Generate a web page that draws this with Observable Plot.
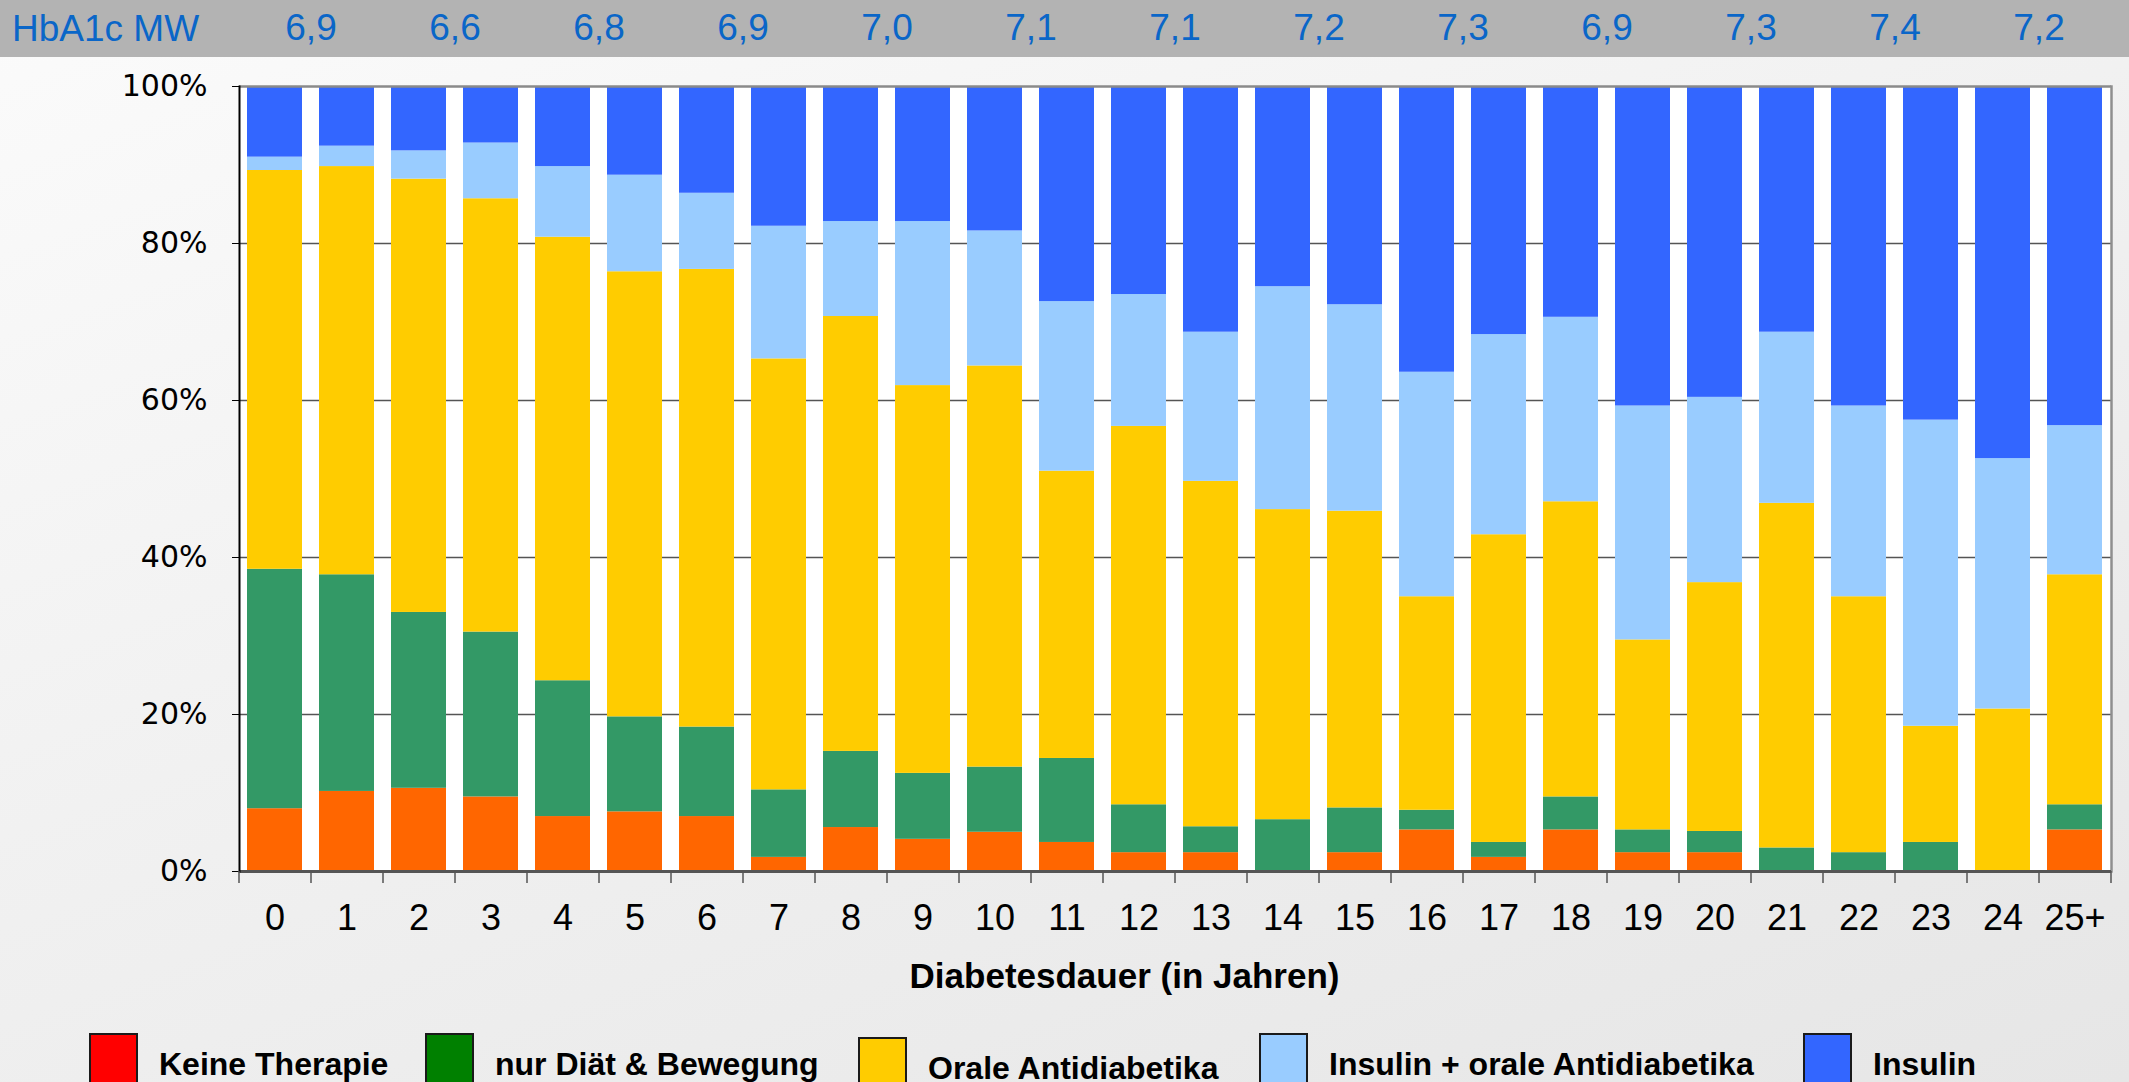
<!DOCTYPE html>
<html>
<head>
<meta charset="utf-8">
<script src="https://cdn.jsdelivr.net/npm/d3@7"></script>
<script src="https://cdn.jsdelivr.net/npm/@observablehq/plot@0.6"></script>
<style>
  body { margin: 0; }
  #page {
    position: relative; width: 2129px; height: 1082px; overflow: hidden;
    background: linear-gradient(160deg, #fbfbfb 0%, #f1f1f1 45%, #e6e6e6 100%);
    font-family: "Liberation Sans", Arial, sans-serif;
  }
  #banner { position: absolute; left: 0; top: 0; width: 2129px; height: 57px; background: #b3b3b3; }
  #hbtitle { position: absolute; left: 12px; top: 0; height: 57px; line-height: 57px; font-size: 37px; color: #0a66c8; white-space: nowrap; }
  #chart { position: absolute; left: 0; top: 0; }
  .item { position: absolute; top: 1033px; display: flex; align-items: flex-start; }
  .sw { width: 49px; height: 60px; border: 2px solid #1a1a1a; box-sizing: border-box; }
  .lt { font-weight: bold; font-size: 32px; line-height: 32px; margin-left: 21px; margin-top: 15px; color: #000; white-space: nowrap; }
</style>
</head>
<body>
<div id="page">
  <div id="banner"></div>
  <div id="hbtitle">HbA1c MW</div>
  <div id="chart"></div>
  <div id="legend"></div>
</div>
<script>
// ---- data ----
const years = ["0","1","2","3","4","5","6","7","8","9","10","11","12","13","14","15","16","17","18","19","20","21","22","23","24","25+"];
const series = ["Keine Therapie", "nur Diät & Bewegung", "Orale Antidiabetika", "Insulin + orale Antidiabetika", "Insulin"];
const keineTherapie = [8.0,10.2,10.6,9.5,7.0,7.6,7.0,1.8,5.6,4.1,5.0,3.7,2.4,2.4,0,2.4,5.3,1.8,5.3,2.4,2.4,0,0,0,0,5.3];
const nurDiaet      = [30.5,27.6,22.4,21.0,17.3,12.1,11.4,8.6,9.7,8.4,8.3,10.7,6.1,3.3,6.6,5.7,2.5,1.9,4.2,2.9,2.7,3.0,2.4,3.7,0,3.2];
const oraleAD       = [50.8,52.0,55.2,55.2,56.5,56.7,58.3,54.9,55.4,49.4,51.1,36.6,48.2,44.0,39.5,37.8,27.2,39.2,37.6,24.2,31.7,43.9,32.6,14.8,20.7,29.3];
const insulinOral   = [1.7,2.6,3.6,7.1,9.0,12.3,9.7,16.9,12.1,20.9,17.2,21.6,16.8,19.0,28.4,26.3,28.6,25.5,23.5,29.8,23.6,21.8,24.3,39.0,31.9,19.0];
const insulin       = [9.0,7.6,8.2,7.2,10.2,11.3,13.6,17.8,17.2,17.2,18.4,27.4,26.5,31.3,25.5,27.8,36.4,31.6,29.4,40.7,39.6,31.3,40.7,42.5,47.4,43.2];
const hba1c         = ["6,9","6,6","6,8","6,9","7,0","7,1","7,1","7,2","7,3","6,9","7,3","7,4","7,2"];
const hba1cStart    = ["0","2","4","6","8","10","12","14","16","18","20","22","24"];
const yTicks        = [0,20,40,60,80,100];
const barColors     = ["#ff6600","#339966","#ffcc00","#99ccff","#3366ff"];
const legendColors  = ["#ff0000","#008000","#ffcc00","#99ccff","#3366ff"];
const xTitle        = "Diabetesdauer (in Jahren)";

// ---- table ----
const columns = [keineTherapie, nurDiaet, oraleAD, insulinOral, insulin];
const table = [];
years.forEach((yr, i) => series.forEach((s, j) => table.push({year: yr, series: s, value: columns[j][i]})));
const banner = hba1c.map((v, i) => ({year: hba1cStart[i], value: v}));

// ---- layout ----
const W = 2129, H = 1010;
const mL = 239, mR = 18, mT = 86, mB = H - 871;
const pIn = 0.23, pOut = 0.115;
const step = (W - mL - mR) / (years.length - pIn + 2 * pOut);
const font = '"Liberation Sans", Arial, sans-serif';

const chart = Plot.plot({
  width: W, height: H,
  marginLeft: mL, marginRight: mR, marginTop: mT, marginBottom: mB,
  style: {background: "transparent", fontFamily: font, color: "#000", overflow: "visible"},
  x: {domain: years, paddingInner: pIn, paddingOuter: pOut, axis: null},
  y: {domain: [0, 100], axis: null},
  color: {domain: series, range: barColors},
  marks: [
    Plot.frame({fill: "white", stroke: null}),
    Plot.gridY([20, 40, 60, 80], {stroke: "#555", strokeOpacity: 1, strokeWidth: 1.5}),
    Plot.barY(table, {x: "year", y: "value", fill: "series"}),
    Plot.ruleY([100], {stroke: "#8a8a8a", strokeWidth: 2.5}),
    Plot.frame({anchor: "right", stroke: "#8f8f8f", strokeWidth: 2.5}),
    Plot.ruleY([0], {stroke: "#555", strokeWidth: 3}),
    Plot.frame({anchor: "left", stroke: "#000", strokeWidth: 2}),
    Plot.axisY(yTicks, {tickFormat: d => d + "%", tickSize: 7, tickPadding: 25, fontSize: 30, fontFamily: '"DejaVu Sans", Verdana, sans-serif', label: null}),
    Plot.axisX({tickSize: 12, tickFormat: () => "", dx: -step / 2, label: null, stroke: "#555", strokeWidth: 1.5}),
    Plot.axisX([years[years.length - 1]], {tickSize: 12, tickFormat: () => "", dx: step / 2, label: null, stroke: "#555", strokeWidth: 1.5}),
    Plot.axisX({tickSize: 0, tickPadding: 33, fontSize: 36, label: null}),
    Plot.text([xTitle], {frameAnchor: "bottom", lineAnchor: "middle", dy: 105, dx: -51, fontSize: 35, fontWeight: "bold"}),
    Plot.text(banner, {x: "year", text: "value", frameAnchor: "top", lineAnchor: "middle", dy: -58, dx: step / 2, fontSize: 37, fill: "#0a66c8"})
  ]
});
document.getElementById("chart").appendChild(chart);

// ---- legend ----
const legendLeft = [89, 425, 858, 1259, 1803];
const legendDrop = [0, 0, 4, 0, 0];
const legend = document.getElementById("legend");
series.forEach((s, i) => {
  const item = document.createElement("div");
  item.className = "item";
  item.style.left = legendLeft[i] + "px";
  item.style.top = (1033 + legendDrop[i]) + "px";
  const sw = document.createElement("div");
  sw.className = "sw";
  sw.style.background = legendColors[i];
  const lt = document.createElement("div");
  lt.className = "lt";
  lt.textContent = s;
  item.appendChild(sw);
  item.appendChild(lt);
  legend.appendChild(item);
});
</script>
</body>
</html>
